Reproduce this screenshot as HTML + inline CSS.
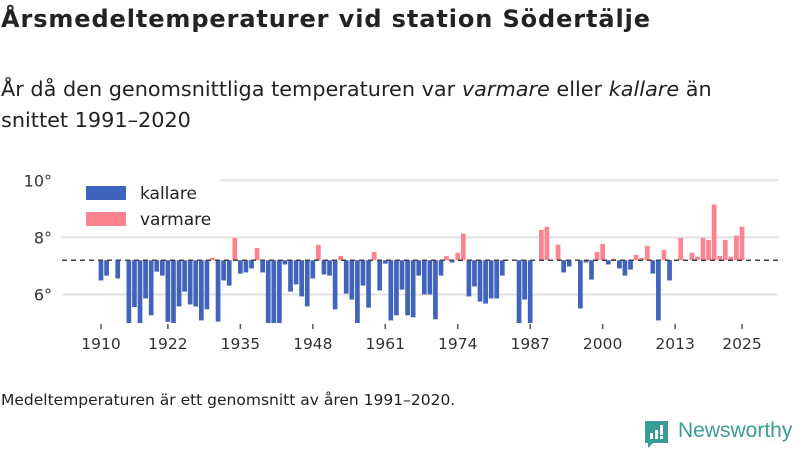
<!DOCTYPE html>
<html><head><meta charset="utf-8"><style>
body{margin:0;width:800px;height:450px;background:#fff;font-family:"Liberation Sans","DejaVu Sans",sans-serif;overflow:hidden;position:relative;color:#222}
.t{position:absolute;white-space:nowrap}
</style></head><body>
<div class="t" style="left:1px;top:5px;font-size:24px;letter-spacing:0.9px;font-weight:bold;font-family:'DejaVu Sans',sans-serif;">Årsmedeltemperaturer vid station Södertälje</div>
<div class="t" style="left:1px;top:74px;font-size:20.8px;line-height:31px;font-family:'DejaVu Sans',sans-serif;">År då den genomsnittliga temperaturen var <i>varmare</i> eller <i>kallare</i> än<br>snittet 1991–2020</div>
<svg id="chart" width="800" height="450" style="position:absolute;left:0;top:0"></svg>
<div class="t" style="left:1px;top:391px;font-size:15.5px;font-family:'DejaVu Sans',sans-serif;">Medeltemperaturen är ett genomsnitt av åren 1991–2020.</div>
<div class="t" style="left:645px;top:419px;">
<svg width="24" height="28" style="position:absolute;left:0;top:2px"><path d="M0 0H23V22H8L3 27V22H0Z" fill="#3a9d94"/><rect x="5" y="12" width="3" height="6" fill="#fff"/><rect x="10" y="9" width="3" height="9" fill="#fff"/><rect x="15" y="4" width="3" height="10" fill="#fff"/><rect x="15" y="15" width="3" height="3" fill="#fff"/></svg>
<span style="position:absolute;left:33px;top:0;font-size:21px;color:#3a9d94;">Newsworthy</span></div>
<script>
const years=[];for(let y=1910;y<=2025;y++)years.push(y);
const temps=[6.49,6.66,7.2,6.56,7.2,5.0,5.56,5.0,5.86,5.27,6.80,6.66,5.04,5.0,5.58,6.10,5.65,5.58,5.09,5.48,7.28,5.05,6.49,6.31,7.98,6.73,6.77,6.91,7.63,6.77,5.0,5.0,5.0,7.05,6.10,6.35,5.93,5.58,6.56,7.74,
6.70,6.66,5.48,7.35,6.03,5.82,5.0,6.31,5.54,7.49,6.14,7.08,5.09,5.27,6.17,5.27,5.2,6.66,6.0,6.0,5.13,6.66,7.35,7.12,7.46,8.13,5.93,6.28,5.75,5.68,5.86,5.86,6.66,7.22,7.2,5.0,5.82,5.0,
7.2,8.26,8.37,7.2,7.74,6.77,6.98,7.2,5.51,7.12,6.52,7.49,7.77,7.05,7.25,6.91,6.66,6.87,7.39,7.28,7.70,6.73,5.09,7.56,6.49,7.2,7.98,7.2,7.46,7.32,7.98,7.91,9.15,7.35,7.91,7.32,8.06,8.37];
const avg=7.2;
const yTicks=[6,8,10];
const xTicks=[1910,1922,1935,1948,1961,1974,1987,2000,2013,2025];
const NS="http://www.w3.org/2000/svg",svg=document.getElementById('chart');
const X=y=>101+(y-1910)*5.574;
const Y=v=>323-(Math.max(v,5)-5)*28.55;
function el(t,a){const e=document.createElementNS(NS,t);for(const k in a)e.setAttribute(k,a[k]);svg.appendChild(e);return e;}
yTicks.forEach(v=>{
 const g=el('line',{x1:62,x2:778,y1:Y(v),y2:Y(v),stroke:'#e2e2e2','stroke-width':2});
 
 
 const t=el('text',{x:52,y:Y(v)+6,'text-anchor':'end','font-size':16,fill:'#333','font-family':'DejaVu Sans'});t.textContent=v+'°';
 
 
});
years.forEach((yr,i)=>{
 const v=temps[i],top=Y(Math.max(v,avg)),bot=Y(Math.min(v,avg));
 const r=el('rect',{x:X(yr)-2.35,y:top,width:4.7,height:Math.max(bot-top,0),fill:v>=avg?'#ff8290':'#4063bd'});
 
 
});
const b=el('line',{x1:62,x2:778,y1:Y(avg),y2:Y(avg),stroke:'#444','stroke-width':1.5,'stroke-dasharray':'5,4'});


xTicks.forEach(yr=>{
 const l=el('line',{x1:X(yr),x2:X(yr),y1:324,y2:329,stroke:'#555','stroke-width':1.5});
 
 
 const t=el('text',{x:X(yr),y:349,'text-anchor':'middle','font-size':15.5,fill:'#333','font-family':'DejaVu Sans'});t.textContent=yr;
 
 
});
const lb=el('rect',{x:62,y:179,width:158,height:56,fill:'#fff'});


[['kallare','#4063bd',186],['varmare','#ff8290',212]].forEach(([n,c,y])=>{
 const s=el('rect',{x:86,y:y,width:40,height:14,fill:c});
 
 
 const t=el('text',{x:140,y:y+13,'font-size':17,fill:'#222','font-family':'DejaVu Sans'});t.textContent=n;
 
 
});
</script>
</body></html>
